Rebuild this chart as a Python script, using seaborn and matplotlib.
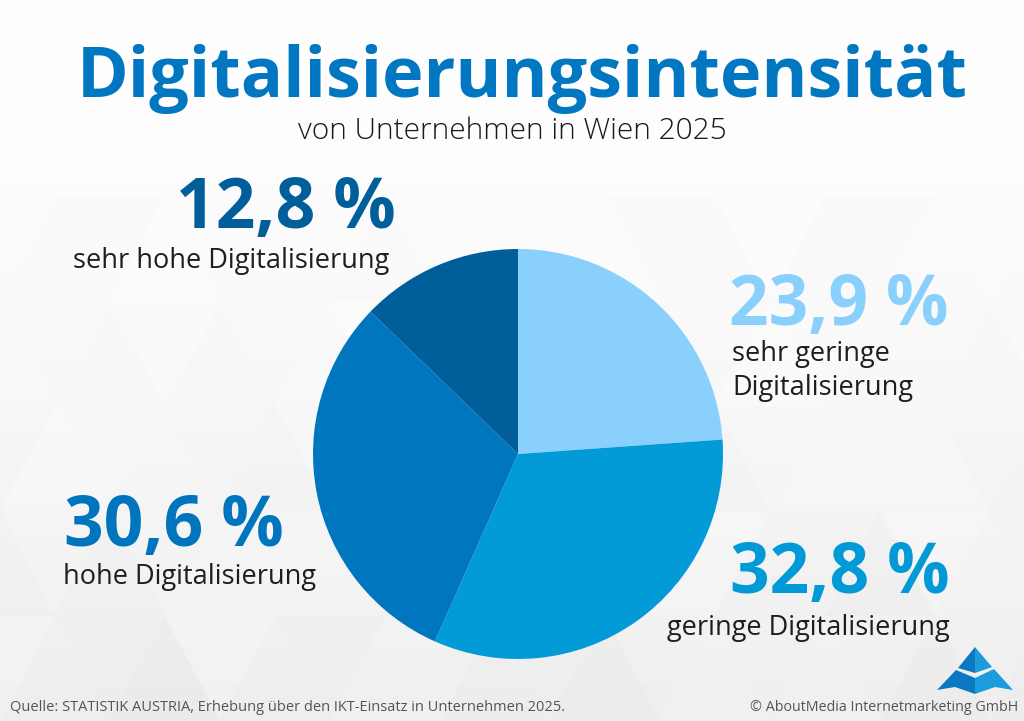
import numpy as np
import matplotlib
matplotlib.use("Agg")
import matplotlib.pyplot as plt
import seaborn as sns
from matplotlib.patches import Polygon

# ---- data ----
categories = ["sehr geringe\nDigitalisierung", "geringe Digitalisierung",
              "hohe Digitalisierung", "sehr hohe Digitalisierung"]
values = [23.9, 32.8, 30.6, 12.8]
value_labels = ["23,9 %", "32,8 %", "30,6 %", "12,8 %"]
colors = ["#8ad0fd", "#039ad8", "#0076be", "#005f9b"]
label_colors = ["#8ad0fd", "#0199d6", "#0075bd", "#005e9a"]

title = "Digitalisierungsintensität"
subtitle = "von Unternehmen in Wien 2025"
source = "Quelle: STATISTIK AUSTRIA, Erhebung über den IKT-Einsatz in Unternehmen 2025."
credit = "© AboutMedia Internetmarketing GmbH"

sns.set_theme(style="white")
plt.rcParams["font.family"] = ["Open Sans", "DejaVu Sans"]

W, H = 1024, 721
fig = plt.figure(figsize=(W / 100, H / 100), dpi=100)
fig.patch.set_facecolor("white")

# ---- background (pixel coordinates): soft gradient + faint low-poly triangles ----
bg = fig.add_axes([0, 0, 1, 1], zorder=0)
bg.set_xlim(0, W)
bg.set_ylim(H, 0)
bg.axis("off")
grad = np.linspace(0, 1, 256).reshape(-1, 1)
bg.imshow(grad, extent=[0, W, H, 0], origin="upper", aspect="auto",
          cmap=matplotlib.colors.LinearSegmentedColormap.from_list(
              "g", ["#ffffff", "#fbfbfb", "#f1f1f1"]), zorder=0)
tw, th = 110, 105
rows = 5
for j in range(rows):
    for i in range(-1, int(W / tw) + 2):
        x0 = i * tw + (tw / 2 if j % 2 else 0)
        yb = H - j * th
        yt = yb - th
        shade = 0.5 + 0.5 * np.sin(i * 1.7 + j * 2.3)
        a = 0.07 * shade * (1 - j / (rows + 1))
        bg.add_patch(Polygon([[x0, yb], [x0 + tw, yb], [x0 + tw / 2, yt]],
                             closed=True, facecolor="#a8a8a8", alpha=a, lw=0, zorder=1))
        shade2 = 0.5 + 0.5 * np.cos(i * 2.9 + j * 1.3)
        bg.add_patch(Polygon([[x0 + tw / 2, yt], [x0 + 1.5 * tw, yt], [x0 + tw, yb]],
                             closed=True, facecolor="#bcbcbc",
                             alpha=0.06 * shade2 * (1 - j / (rows + 1)), lw=0, zorder=1))

# logo (decorative), pixel coordinates
dark, light = "#0a78c2", "#1c9cda"
bg.add_patch(Polygon([[975, 647], [958, 668], [975, 673]], color=dark, lw=0, zorder=3))
bg.add_patch(Polygon([[975, 647], [975, 673], [992, 667]], color=light, lw=0, zorder=3))
bg.add_patch(Polygon([[937, 690], [956, 670], [975, 678], [975, 694], [955, 687]],
                     color=dark, lw=0, zorder=3))
bg.add_patch(Polygon([[975, 678], [994, 669], [1013, 690], [995, 687], [975, 694]],
                     color=light, lw=0, zorder=3))

# ---- pie ----
cx, cy, r = 518, 454, 205
ax = fig.add_axes([(cx - r) / W, (H - cy - r) / H, 2 * r / W, 2 * r / H], zorder=2)
ax.pie(values, colors=colors, startangle=90, counterclock=False,
       wedgeprops=dict(linewidth=0))
ax.set_xlim(-1, 1)
ax.set_ylim(-1, 1)
ax.set_aspect("equal")
ax.axis("off")

# ---- texts ----
def fx(px):
    return px / W

def fy(py):
    return 1 - py / H

fig.text(fx(522), fy(97), title, ha="center", va="baseline", fontsize=50.5,
         fontweight="bold", color="#0077c0", zorder=5)
fig.text(fx(512), fy(139), subtitle, ha="center", va="baseline", fontsize=21.5,
         fontweight="light", color="#1a1a1a", zorder=5)

big = dict(fontsize=50, fontweight="bold", zorder=5)
small = dict(fontsize=19.5, color="#1e1e1e", zorder=5, linespacing=1.3)

# sehr geringe (top-right)
fig.text(fx(729), fy(325), value_labels[0], ha="left", va="baseline",
         color=label_colors[0], **big)
fig.text(fx(732), fy(395), categories[0], ha="left", va="baseline", **small)
# geringe (bottom-right)
fig.text(fx(950), fy(593), value_labels[1], ha="right", va="baseline",
         color=label_colors[1], **big)
fig.text(fx(950), fy(635), categories[1], ha="right", va="baseline", **small)
# hohe (bottom-left)
fig.text(fx(64), fy(546), value_labels[2], ha="left", va="baseline",
         color=label_colors[2], **big)
fig.text(fx(63), fy(584), categories[2], ha="left", va="baseline", **small)
# sehr hohe (top-left)
fig.text(fx(396), fy(228), value_labels[3], ha="right", va="baseline",
         color=label_colors[3], **big)
fig.text(fx(389), fy(268), categories[3], ha="right", va="baseline", **small)

# footer
fig.text(fx(10), fy(711), source, ha="left", va="baseline", fontsize=10.5,
         color="#555555", zorder=5)
fig.text(fx(1018), fy(711), credit, ha="right", va="baseline", fontsize=10.3,
         color="#555555", zorder=5)

fig.savefig("out.png", dpi=100, facecolor=fig.get_facecolor())
